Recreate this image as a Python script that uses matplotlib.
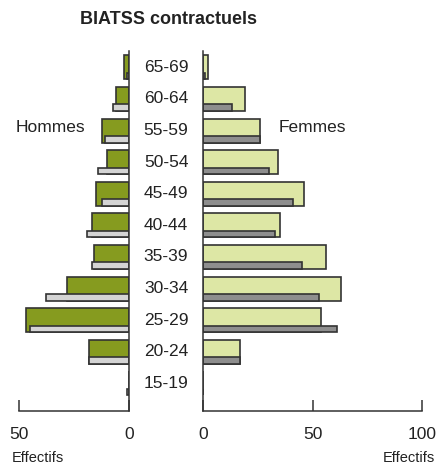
import matplotlib
matplotlib.use("Agg")
import matplotlib.pyplot as plt
import numpy as np

plt.rcParams['font.family'] = ['Liberation Sans', 'DejaVu Sans']

# tranches d'âge, de la plus jeune à la plus âgée
ages = ["15-19", "20-24", "25-29", "30-34", "35-39", "40-44",
        "45-49", "50-54", "55-59", "60-64", "65-69"]
hommes = [0, 18, 47, 28, 16, 17, 15, 10, 12, 6, 2]
hommes_ref = [1, 18, 45, 38, 17, 19, 12, 14, 11, 7, 1]
femmes = [0, 17, 54, 63, 56, 35, 46, 34, 26, 19, 2]
femmes_ref = [0, 17, 61, 53, 45, 33, 41, 30, 26, 13, 1]

W, H = 442, 468
txt = "#222222"
edge = "#333333"

fig = plt.figure(figsize=(W / 100, H / 100), dpi=100)
bottom = 1 - 411.3 / H
height = (411.3 - 51) / H
axL = fig.add_axes([19.3 / W, bottom, (128.7 - 19.3) / W, height])
axR = fig.add_axes([203.3 / W, bottom, (422 - 203.3) / W, height])

y = np.arange(len(ages))
h_main, h_ref, off = 0.76, 0.21, -0.05
y_ref = y + off - h_main / 2 + h_ref / 2

axL.barh(y + off, hommes, height=h_main, color="#869b1f", edgecolor=edge, linewidth=1.2)
axL.barh(y_ref, hommes_ref, height=h_ref, color="#d4d4d4", edgecolor=edge, linewidth=1.2)
axR.barh(y + off, femmes, height=h_main, color="#dde7a5", edgecolor=edge, linewidth=1.2)
axR.barh(y_ref, femmes_ref, height=h_ref, color="#8e8e8e", edgecolor=edge, linewidth=1.2)

for ax in (axL, axR):
    ax.set_ylim(-0.93, 10.47)
    for s in ax.spines.values():
        s.set_color(edge)
        s.set_linewidth(1.1)
    ax.spines["top"].set_visible(False)
    ax.tick_params(axis="x", direction="in", length=8, width=1.1, color=edge,
                   labelsize=12.5, labelcolor=txt, pad=11)

axL.set_xlim(50, 0)
axL.set_xticks([0, 50])
axL.spines["left"].set_visible(False)
axL.yaxis.tick_right()
axL.set_yticks(y, ages)
axL.tick_params(axis="y", length=0, pad=26.9, labelsize=12.5, labelcolor=txt)
for lab in axL.get_yticklabels():
    lab.set_horizontalalignment("center")

axR.set_xlim(0, 100)
axR.set_xticks([0, 50, 100])
axR.spines["right"].set_visible(False)
axR.set_yticks([])

fig.text(168 / W, 1 - 20 / H, "BIATSS contractuels", ha="center", va="center",
         fontsize=13, fontweight="bold", color=txt)
fig.text(16 / W, 1 - 128 / H, "Hommes", ha="left", va="center", fontsize=12.5, color=txt)
fig.text(279 / W, 1 - 128 / H, "Femmes", ha="left", va="center", fontsize=12.5, color=txt)
fig.text(11.7 / W, 1 - 458 / H, "Effectifs", ha="left", va="center", fontsize=10.5, color=txt)
fig.text(435 / W, 1 - 458 / H, "Effectifs", ha="right", va="center", fontsize=10.5, color=txt)

fig.savefig("out.png", dpi=100)
